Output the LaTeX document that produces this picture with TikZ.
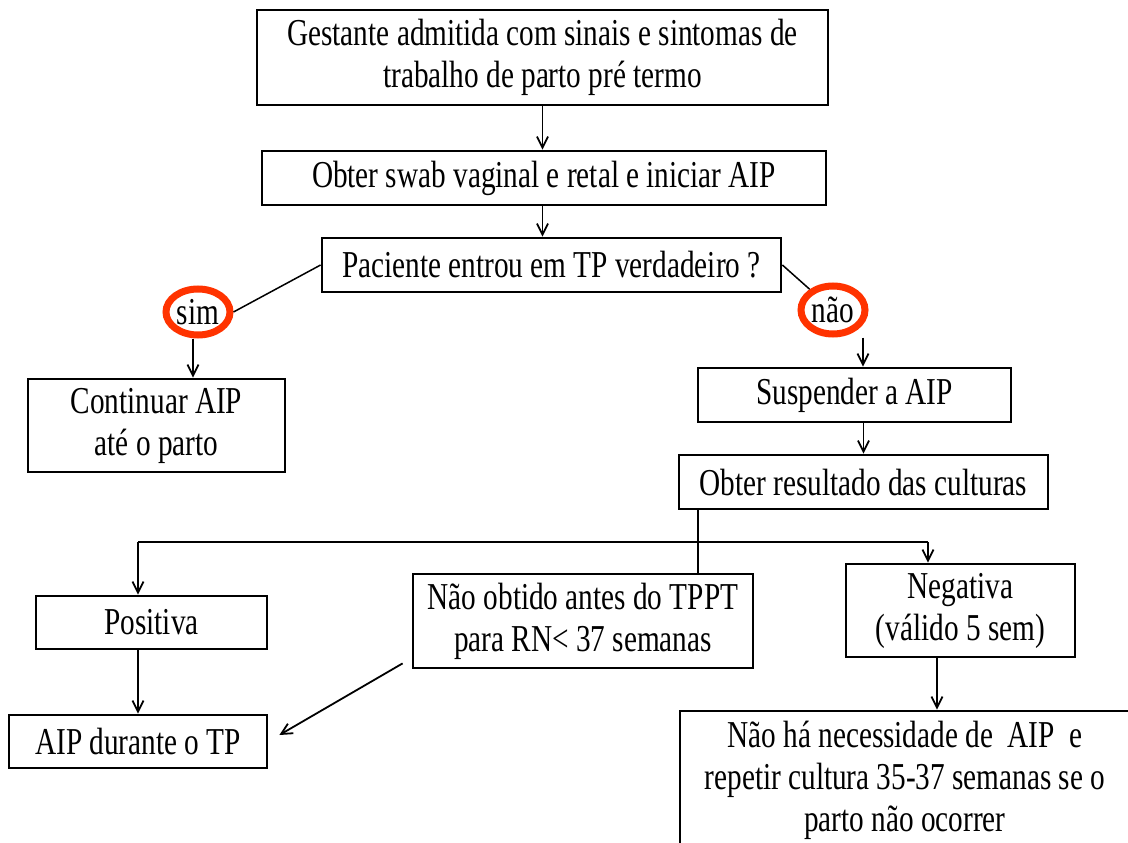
\documentclass[tikz,border=0pt]{standalone}
\usepackage{fontspec}
\setmainfont{Liberation Serif}[FakeStretch=0.77]
\usetikzlibrary{arrows.meta,shapes.geometric}
\definecolor{circred}{RGB}{255,51,0}
\begin{document}
\begin{tikzpicture}[x=1pt,y=-1pt,
  box/.style={draw, line width=2.8pt, rectangle, inner sep=0pt, align=center, font=\fontsize{38}{42}\selectfont},
  oval/.style={draw=circred, line width=7pt, ellipse, inner sep=0pt, minimum width=64pt, minimum height=46pt, font=\fontsize{38}{42}\selectfont},
  conn/.style={line width=1.8pt},
  thin/.style={line width=1.5pt},
  arr/.style={conn, -{Straight Barb[length=11pt,width=11pt]}}]
\clip (0,0) rectangle (1128,843);
\useasboundingbox (0,0) rectangle (1128,843);
\fill[white] (0,0) rectangle (1128,843);

\node[box, minimum width=571pt, minimum height=95pt] (g) at (542.5,57.5) {Gestante admitida com sinais e sintomas de\\trabalho de parto pré termo};
\node[box, minimum width=564pt, minimum height=54pt] (swab) at (544,178) {Obter swab vaginal e retal e iniciar AIP};
\node[box, minimum width=459pt, minimum height=54pt] (pac) at (551.5,265) {Paciente entrou em TP verdadeiro ?};
\node[oval] (sim) at (198,312) {sim};
\node[oval, minimum height=48pt] (nao) at (833,310) {não};
\node[box, minimum width=257pt, minimum height=93pt] (cont) at (156.5,425.5) {Continuar AIP\\até o parto};
\node[box, minimum width=313pt, minimum height=54pt] (susp) at (854.5,395) {Suspender a AIP};
\node[box, minimum width=369pt, minimum height=54pt] (res) at (863.5,482) {Obter resultado das culturas};
\node[box, minimum width=231pt, minimum height=53pt] (pos) at (151.5,622.5) {Positiva};
\node[box, minimum width=340pt, minimum height=94pt] (naoob) at (583,621) {Não obtido antes do TPPT\\para RN< 37 semanas};
\node[box, minimum width=229pt, minimum height=93pt] (neg) at (960.5,610.5) {Negativa\\(válido 5 sem)};
\node[box, minimum width=258pt, minimum height=53pt] (aip) at (138,741.5) {AIP durante o TP};
\node[box, minimum width=450pt, minimum height=138pt] (bot) at (905,780) {Não há necessidade de~~AIP~~e\\repetir cultura 35-37 semanas se o\\parto não ocorrer};

\draw[arr] (g.south) -- (g.south |- swab.north);
\draw[arr] (g.south |- swab.south) -- (g.south |- pac.north);
\draw[thin] (pac.west) -- (sim.east);
\draw[thin] (pac.east) -- (nao);
\draw[arr] ([xshift=-5pt]sim.south) -- ([xshift=-5pt]sim.south |- cont.north);
\draw[arr] ([xshift=30pt]nao.south) -- ([xshift=30pt]nao.south |- susp.north);
\draw[arr] (res.north |- susp.south) -- (res.north);
\coordinate (split) at (698,542);
\coordinate (lt) at (138,542);
\coordinate (rt) at (928,542);
\draw[conn] (split |- res.south) -- (split |- naoob.north);
\draw[conn] (lt) -- (rt);
\draw[arr] (lt) -- (lt |- pos.north);
\draw[arr] (rt) -- (rt |- neg.north);
\draw[arr] (lt |- pos.south) -- (lt |- aip.north);
\draw[arr] ([shift={(-9pt,6pt)}]naoob.south west) -- ([shift={(11pt,6.5pt)}]aip.east);
\draw[arr] ([xshift=-23.5pt]neg.south) -- ([xshift=-23.5pt]neg.south |- bot.north);
\end{tikzpicture}
\end{document}
